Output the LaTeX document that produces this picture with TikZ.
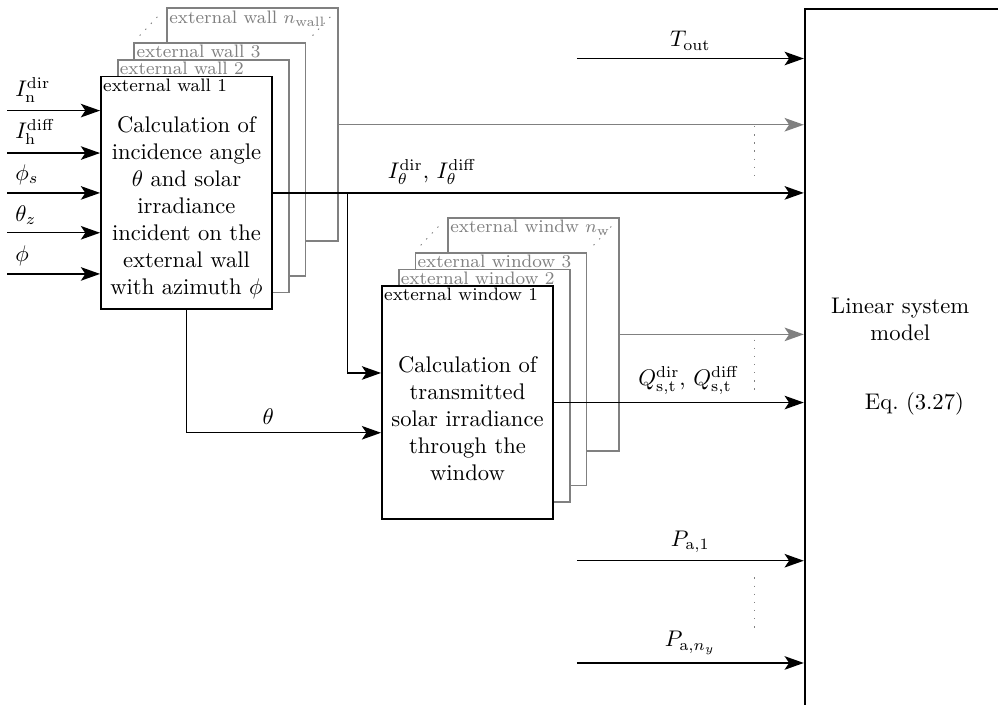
\documentclass[tikz,border=0pt]{standalone}
\usepackage{tikz}
\usetikzlibrary{arrows.meta,positioning}

\tikzset{
  >={Stealth[length=8.5pt,width=6pt,inset=2pt]},
  blk/.style={draw, thick, fill=white, minimum width=2.66cm, minimum height=3.62cm, inner sep=0pt},
  backblk/.style={blk, draw=gray},
  hdr/.style={font=\footnotesize, anchor=north west, inner sep=1.2pt},
  backhdr/.style={hdr, text=gray},
  sig/.style={->, semithick},
  dots/.style={gray, dash pattern=on 0.6pt off 3pt},
}

\begin{document}
\begin{tikzpicture}
  \useasboundingbox (0,0) rectangle (15.52,10.96);

  % stack of external walls
  \node[backblk] (walln) at (3.93,9.02) {};
  \node[backhdr] at (walln.north west) {external wall $n_{\rm wall}$};
  \node[backblk] (wall3) at (3.42,8.48) {};
  \node[backhdr] at (wall3.north west) {external wall 3};
  \node[backblk] (wall2) at (3.16,8.22) {};
  \node[backhdr] at (wall2.north west) {external wall 2};
  \node[blk] (wall1) at (2.90,7.96) {};
  \node[hdr] (wall1lbl) at (wall1.north west) {external wall 1};
  \node[align=center] (wall1txt) at ([yshift=-0.23cm]wall1.center)
    {Calculation of\\incidence angle\\$\theta$ and solar\\irradiance\\incident on the\\external wall\\with azimuth $\phi$};
  \draw[dots, shorten <=4pt, shorten >=3pt] (wall3.north west) -- (walln.north west);
  \draw[dots, shorten <=4pt, shorten >=3pt] (wall3.north east) -- (walln.north east);

  % stack of external windows
  \node[backblk] (winn) at (8.30,5.76) {};
  \node[backhdr] at (winn.north west) {external windw $n_{\rm w}$};
  \node[backblk] (win3) at (7.79,5.22) {};
  \node[backhdr] at (win3.north west) {external window 3};
  \node[backblk] (win2) at (7.53,4.96) {};
  \node[backhdr] at (win2.north west) {external window 2};
  \node[blk] (win1) at (7.27,4.70) {};
  \node[hdr] (win1lbl) at (win1.north west) {external window 1};
  \node[align=center] (win1txt) at ([yshift=-0.25cm]win1.center)
    {Calculation of\\transmitted\\solar irradiance\\through the\\window};
  \draw[dots, shorten <=4pt, shorten >=3pt] (win3.north west) -- (winn.north west);
  \draw[dots, shorten <=4pt, shorten >=3pt] (win3.north east) -- (winn.north east);

  % linear system model
  \node[draw, thick, anchor=north west, minimum width=3.3cm, minimum height=11.0cm] (lsm) at (12.50,10.84) {};
  \node[align=center] (lsmtxt) at (14.00,5.99) {Linear system\\model};
  \node (lsmeq) at (14.22,4.68) {Eq.~(3.27)};

  % inputs of the wall block
  \coordinate (in1) at (0.11,9.24);
  \coordinate (in2) at (0.11,8.58);
  \coordinate (in3) at (0.11,7.96);
  \coordinate (in4) at (0.11,7.34);
  \coordinate (in5) at (0.11,6.70);
  \draw[sig] (in1) node[above right]{$I_{\rm n}^{\rm dir}$} -- (in1 -| wall1.west);
  \draw[sig] (in2) node[above right]{$I_{\rm h}^{\rm diff}$} -- (in2 -| wall1.west);
  \draw[sig] (in3) node[above right]{$\phi_s$} -- (in3 -| wall1.west);
  \draw[sig] (in4) node[above right]{$\theta_z$} -- (in4 -| wall1.west);
  \draw[sig] (in5) node[above right]{$\phi$} -- (in5 -| wall1.west);

  % wall outputs
  \draw[sig, gray] (walln.east) -- (walln.east -| lsm.west);
  \draw[sig] (wall1.east) -- node[pos=0.30, above]{$I_\theta^{\rm dir}$, $I_\theta^{\rm diff}$} (wall1.east -| lsm.west);
  \coordinate (br) at (5.40,0);
  \draw[sig] (br |- wall1.east) |- ([yshift=0.46cm]win1.west);
  \draw[sig] (wall1.south) |- node[pos=0.71, above]{$\theta$} ([yshift=-0.47cm]win1.west);
  \draw[dots] (11.74,9.00) -- (11.74,8.16);

  % window outputs
  \draw[sig, gray] (winn.east) -- (winn.east -| lsm.west);
  \draw[sig] (win1.east) -- node[pos=0.54, above]{$Q_{\rm s,t}^{\rm dir}$, $Q_{\rm s,t}^{\rm diff}$} (win1.east -| lsm.west);
  \draw[dots] (11.74,5.68) -- (11.74,4.85);

  % other inputs of the model
  \coordinate (tout) at (8.97,10.05);
  \coordinate (pa1) at (8.97,2.24);
  \coordinate (pany) at (8.97,0.65);
  \draw[sig] (tout) -- node[above]{$T_{\rm out}$} (tout -| lsm.west);
  \draw[sig] (pa1) -- node[above]{$P_{{\rm a},1}$} (pa1 -| lsm.west);
  \draw[sig] (pany) -- node[above]{$P_{{\rm a},n_y}$} (pany -| lsm.west);
  \draw[dots] (11.74,1.98) -- (11.74,1.17);
\end{tikzpicture}
\end{document}
